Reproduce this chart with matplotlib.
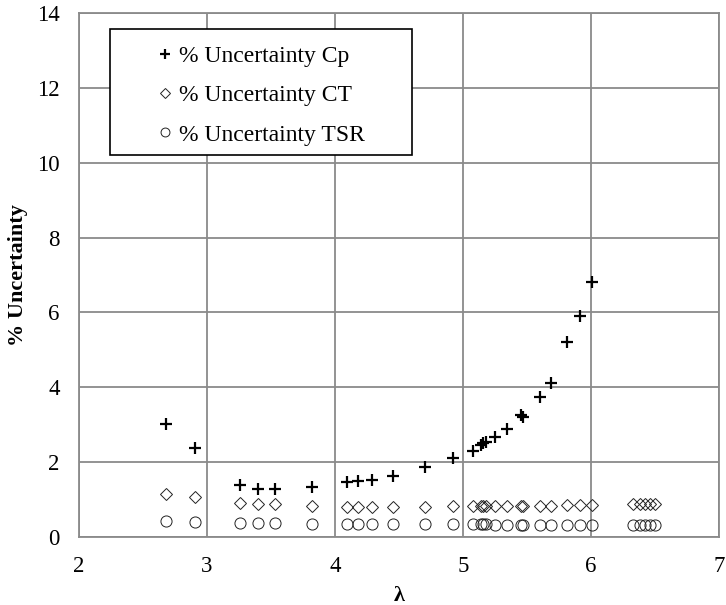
import numpy as np
import matplotlib
matplotlib.use('Agg')
from matplotlib import pyplot as plt
from matplotlib.patches import Rectangle

# tip speed ratio for each test point
lam = [2.68, 2.91, 3.26, 3.40, 3.53, 3.82, 4.09, 4.18, 4.29, 4.45,
       4.70, 4.92, 5.08, 5.14, 5.16, 5.18, 5.25, 5.34, 5.45, 5.47,
       5.60, 5.69, 5.81, 5.91, 6.01, 6.33, 6.38, 6.42, 6.46, 6.50]

# Cp uncertainty only shown up to lambda ~6
lam_cp = lam[:25]
unc_cp = [3.02, 2.37, 1.39, 1.27, 1.27, 1.33, 1.48, 1.49, 1.52, 1.64,
          1.86, 2.10, 2.31, 2.46, 2.50, 2.53, 2.68, 2.88, 3.26, 3.20,
          3.75, 4.12, 5.21, 5.90, 6.80]

unc_ct = [1.14, 1.08, 0.92, 0.88, 0.87, 0.84, 0.81, 0.81, 0.81, 0.81,
          0.81, 0.82, 0.82, 0.82, 0.82, 0.82, 0.82, 0.83, 0.83, 0.83,
          0.83, 0.84, 0.85, 0.85, 0.86, 0.87, 0.87, 0.88, 0.88, 0.88]

unc_tsr = [0.42, 0.41, 0.38, 0.37, 0.37, 0.36, 0.35, 0.35, 0.35, 0.34,
           0.34, 0.34, 0.34, 0.34, 0.34, 0.34, 0.33, 0.33, 0.33, 0.33,
           0.33, 0.33, 0.33, 0.33, 0.33, 0.33, 0.33, 0.33, 0.33, 0.33]

labels = ['% Uncertainty Cp', '% Uncertainty CT', '% Uncertainty TSR']

plt.rcParams['font.family'] = ['Liberation Serif', 'DejaVu Serif']

fig = plt.figure(figsize=(7.26, 6.05), dpi=100)
ax = fig.add_axes([0.1088, 0.1124, 0.8816, 0.8661])

grid_col = '#8a8a8a'

ax.plot(lam_cp, unc_cp, linestyle='none', marker='+', markersize=9,
        markeredgewidth=1.6, color='black', label=labels[0], zorder=3)
ax.plot(lam, unc_ct, linestyle='none', marker='D', markersize=6.4,
        markeredgewidth=0.7, markerfacecolor='none', markeredgecolor='#222222',
        label=labels[1], zorder=3)
ax.plot(lam, unc_tsr, linestyle='none', marker='o', markersize=8,
        markeredgewidth=0.7, markerfacecolor='none', markeredgecolor='#222222',
        label=labels[2], zorder=3)

ax.set_xlim(2, 7)
ax.set_ylim(0, 14)
ax.set_xticks(np.arange(2, 8, 1))
ax.set_yticks(np.arange(0, 16, 2))
ax.grid(True, color=grid_col, linewidth=1.3)
ax.set_axisbelow(True)
for s in ax.spines.values():
    s.set_color(grid_col)
    s.set_linewidth(1.3)
ax.tick_params(length=0, labelsize=16.5)
ax.tick_params(axis='y', pad=14)
ax.tick_params(axis='x', pad=14)

ax.set_xlabel('λ', fontsize=16, fontweight='bold', labelpad=6)
ax.set_ylabel('% Uncertainty', fontsize=16, fontweight='bold', labelpad=6)

# legend frame drawn separately so the entries sit like in the original
box = Rectangle((0.048, 0.729), 0.473, 0.240, transform=ax.transAxes,
                facecolor='white', edgecolor='black', linewidth=1.2, zorder=4)
ax.add_patch(box)
leg = ax.legend(loc='upper left', bbox_to_anchor=(0.090, 0.979), frameon=False,
                fontsize=17, handlelength=0.6, handletextpad=0.3,
                labelspacing=0.76, markerscale=0.8)
leg.set_zorder(5)

fig.savefig('out.png', dpi=100)
